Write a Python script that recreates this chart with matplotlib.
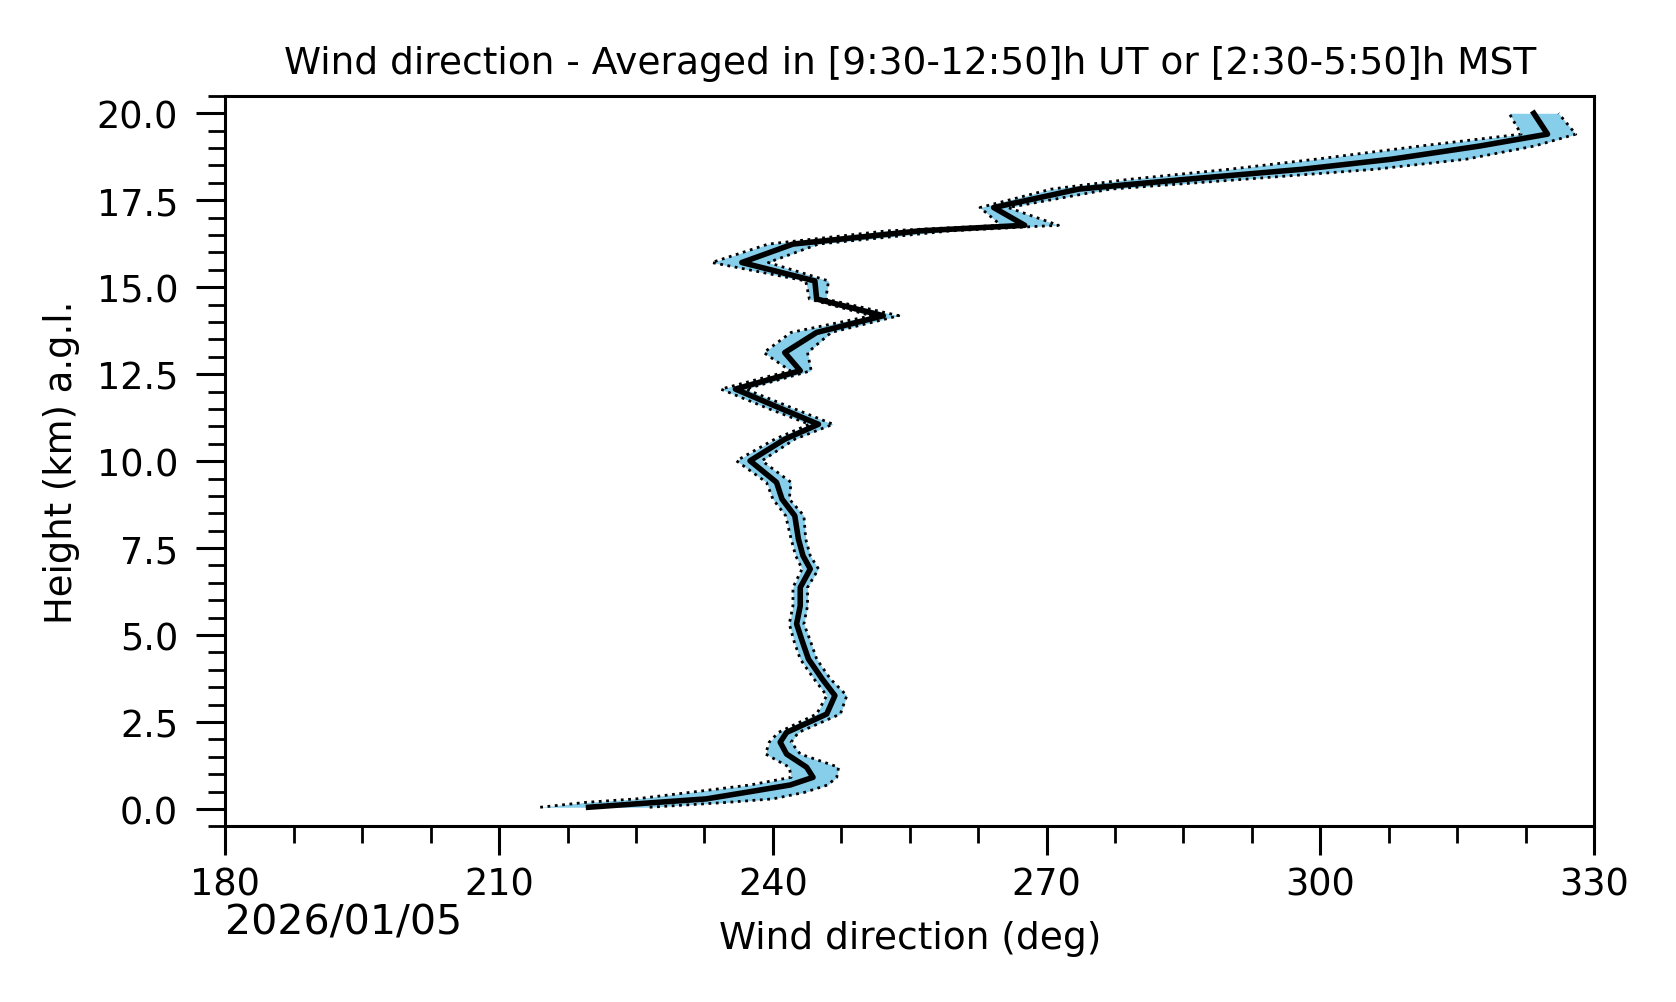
import matplotlib
matplotlib.use("Agg")
import matplotlib.pyplot as plt
from matplotlib.ticker import MultipleLocator, FormatStrFormatter

height = [0.05, 0.19, 0.29, 0.48, 0.69, 0.91, 1.20, 1.58, 1.92, 2.20, 2.73, 3.26, 3.74,
          4.31, 4.84, 5.32, 5.84, 6.37, 6.90, 7.28, 7.76, 8.43, 8.91, 9.39, 10.01, 10.63,
          11.06, 11.50, 12.07, 12.60, 13.12, 13.70, 14.18, 14.66, 15.18, 15.71, 16.24,
          16.62, 16.78, 17.29, 17.82, 18.10, 18.39, 18.68, 19.06, 19.40, 20.00]
wdir_mean = [219.8, 227.3, 232.7, 237.1, 241.9, 244.4, 243.7, 241.5, 240.8, 241.5, 245.9,
             246.8, 245.4, 243.9, 243.2, 242.6, 243.0, 243.0, 244.1, 243.3, 242.8, 242.4,
             241.0, 240.4, 237.5, 241.3, 245.0, 241.0, 235.9, 243.0, 241.3, 244.8, 252.1,
             244.8, 244.6, 236.6, 242.2, 256.1, 267.6, 264.2, 273.5, 285.2, 298.0, 307.8,
             317.5, 324.9, 323.4]
wdir_low = [214.5, 219.5, 225.0, 231.0, 237.5, 242.0, 241.8, 239.2, 239.6, 240.6, 244.8,
            245.9, 244.5, 243.0, 242.3, 241.8, 242.2, 242.2, 243.2, 242.5, 242.0, 241.4,
            240.0, 239.3, 236.0, 240.2, 244.0, 239.6, 234.3, 241.9, 239.0, 242.0, 250.8,
            244.0, 243.6, 233.3, 239.5, 252.5, 265.0, 262.7, 270.5, 279.0, 290.0, 299.5,
            311.0, 322.0, 320.7]
wdir_high = [226.5, 235.0, 240.0, 243.5, 246.0, 247.0, 247.2, 243.0, 242.0, 242.8, 247.4,
             248.1, 246.3, 244.8, 244.1, 243.4, 243.8, 243.8, 245.0, 244.1, 243.6, 243.4,
             241.8, 242.0, 238.8, 242.4, 246.6, 242.4, 237.0, 244.2, 243.8, 246.4, 253.8,
             245.8, 246.1, 239.5, 245.0, 259.5, 271.3, 265.8, 277.0, 291.5, 306.0, 316.0,
             323.5, 328.0, 326.1]

title = "Wind direction - Averaged in [9:30-12:50]h UT or [2:30-5:50]h MST"
date_label = "2026/01/05"

fig = plt.figure(figsize=(8.38, 5.015), dpi=200)
ax = fig.add_axes([0.1345, 0.1751, 0.9511 - 0.1345, 0.9034 - 0.1751])

ax.fill_betweenx(height, wdir_low, wdir_high, color="skyblue", lw=0)
ax.plot(wdir_low, height, color="black", ls=":", lw=1.0)
ax.plot(wdir_high, height, color="black", ls=":", lw=1.0)
ax.plot(wdir_mean, height, color="black", lw=2.0)

ax.set_xlim(180, 330)
ax.set_ylim(-0.5, 20.5)
ax.xaxis.set_major_locator(MultipleLocator(30))
ax.xaxis.set_minor_locator(MultipleLocator(7.5))
ax.yaxis.set_major_locator(MultipleLocator(2.5))
ax.yaxis.set_minor_locator(MultipleLocator(0.5))
ax.yaxis.set_major_formatter(FormatStrFormatter("%.1f"))

ax.tick_params(which="major", length=10.5, width=1.1, labelsize=13.2)
ax.tick_params(which="minor", length=6.1, width=1.0)
ax.tick_params(axis="y", which="major", pad=6.5)
for s in ax.spines.values():
    s.set_linewidth(1.1)

ax.set_xlabel("Wind direction (deg)", fontsize=13.5, labelpad=6.5)
ax.set_ylabel("Height (km) a.g.l.", fontsize=13.3, labelpad=6)
ax.set_title(title, fontsize=13.5, pad=8.3)
ax.text(0.0, -0.146, date_label, transform=ax.transAxes, fontsize=14.8,
        ha="left", va="baseline")

fig.savefig("out.png", dpi=200)
